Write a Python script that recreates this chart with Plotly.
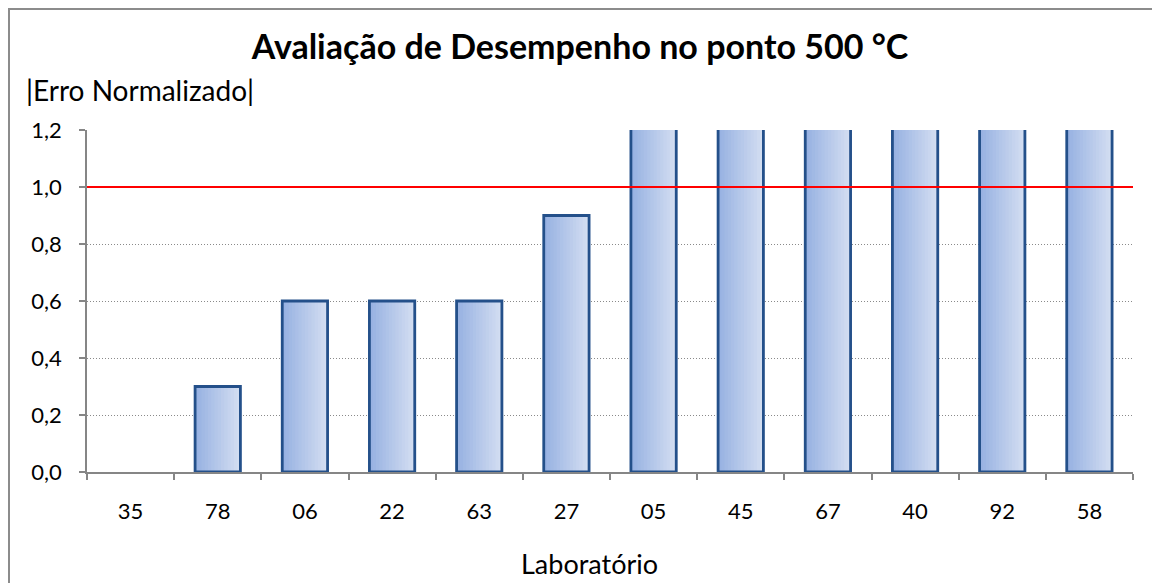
import plotly.graph_objects as go

# ---- data ----
laboratorios = ["35", "78", "06", "22", "63", "27", "05", "45", "67", "40", "92", "58"]
erro_normalizado = [0.0, 0.3, 0.6, 0.6, 0.6, 0.9, 1.5, 1.5, 1.5, 1.5, 1.5, 1.5]
limite = 1.0
y_ticks = [0.0, 0.2, 0.4, 0.6, 0.8, 1.0, 1.2]

title_text = "Avaliação de Desempenho no ponto 500 °C"
y_title = "|Erro Normalizado|"
x_title = "Laboratório"

# ---- style ----
FONT = "Lato"
BAR_W = 0.52
N_STRIPES = 14
c_left = (152, 178, 226)
c_right = (210, 221, 241)

def mix(a, b, t):
    return "rgb(%d,%d,%d)" % tuple(round(a[k] + (b[k] - a[k]) * t) for k in range(3))

fig = go.Figure()
for i in range(N_STRIPES):
    t = i / (N_STRIPES - 1)
    fig.add_trace(go.Bar(
        x=laboratorios, y=erro_normalizado,
        width=BAR_W * (N_STRIPES - i) / N_STRIPES,
        offset=-BAR_W / 2 + i * BAR_W / N_STRIPES,
        marker=dict(color=mix(c_left, c_right, t), line=dict(width=0)),
        showlegend=False, hoverinfo="skip",
    ))
# outline (zero-height bars are not outlined)
outline_y = [v if v > 0 else None for v in erro_normalizado]
fig.add_trace(go.Bar(
    x=laboratorios, y=outline_y, width=BAR_W, offset=-BAR_W / 2,
    marker=dict(color="rgba(0,0,0,0)", line=dict(color="#24508a", width=2.8)),
    showlegend=False,
))

# page has an 8px body margin, so figure coords = page coords - 8
W, H = 1152, 575
L, R, T, B = 79, 27, 122, 111
pw, ph = W - L - R, H - T - B

fig.add_shape(type="line", xref="paper", yref="y", x0=0, x1=1, y0=limite, y1=limite,
              line=dict(color="#ff0000", width=2), layer="above")
# outer frame
fig.add_shape(type="rect", xref="paper", yref="paper",
              x0=(1 - L) / pw, x1=(1150 - L) / pw,
              y0=-(B + 20) / ph, y1=((H - B) - 1) / ph,
              line=dict(color="#8c8c8c", width=2), fillcolor="rgba(0,0,0,0)", layer="below")

fig.update_layout(
    width=W, height=H,
    margin=dict(l=L, r=R, t=T, b=B),
    paper_bgcolor="white", plot_bgcolor="white",
    barmode="overlay", separators=",.",
    font=dict(family=FONT, size=22, color="black"),
    title=dict(text="<b>" + title_text + "</b>", x=572 / W, xref="container", xanchor="center",
               y=1 - 39 / H, yanchor="middle", yref="container",
               font=dict(family=FONT, size=34, color="black")),
    xaxis=dict(
        type="category", showline=True, linecolor="#868686", linewidth=1.5,
        ticks="outside", tickson="boundaries", ticklen=6, tickcolor="#868686", tickwidth=1.5,
        showgrid=False, tickfont=dict(size=22), range=[-0.5, 11.5],
        ticklabelstandoff=19,
    ),
    yaxis=dict(
        range=[0, 1.2], tickvals=y_ticks, tickformat=".1f",
        showline=True, linecolor="#868686", linewidth=1.5,
        ticks="outside", ticklen=6, tickcolor="#868686", tickwidth=1.5,
        showgrid=True, gridcolor="#8a8a8a", griddash="1px,2px", gridwidth=1,
        zeroline=False, tickfont=dict(size=22), ticklabelstandoff=13,
    ),
)
fig.add_annotation(text=y_title, xref="paper", yref="paper",
                   x=(16 - L) / pw, y=((H - B) - 82) / ph, xanchor="left", yanchor="middle",
                   showarrow=False, font=dict(family=FONT, size=28, color="black"))
fig.add_annotation(text=x_title, xref="paper", yref="paper",
                   x=(581 - L) / pw, y=((H - B) - 555) / ph, xanchor="center", yanchor="middle",
                   showarrow=False, font=dict(family=FONT, size=27, color="black"))

fig.write_html("out.html")
